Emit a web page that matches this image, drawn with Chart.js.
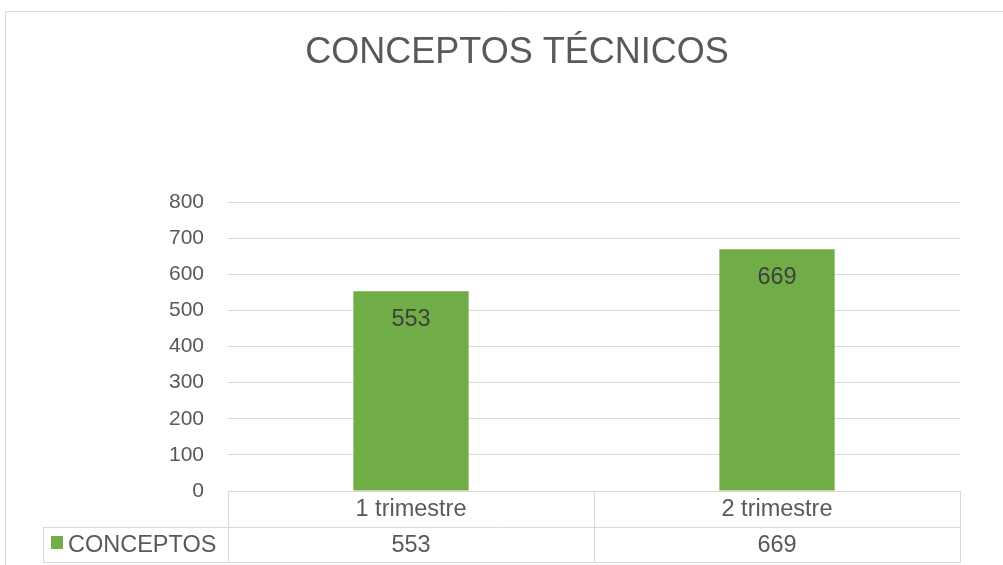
<!DOCTYPE html>
<html>
<head>
<meta charset="utf-8">
<script src="https://cdn.jsdelivr.net/npm/chart.js@4"></script>
<style>
  html, body { margin: 0; padding: 0; background: #fff; }
  #wrap { position: relative; width: 1003px; height: 565px; overflow: hidden; }
  canvas { display: block; }
</style>
</head>
<body>
<div id="wrap"><canvas id="c" width="1003" height="565"></canvas></div>
<script>
const title = "CONCEPTOS TÉCNICOS";
const categories = ["1 trimestre", "2 trimestre"];
const seriesName = "CONCEPTOS";
const seriesValues = [553, 669];
const yTicks = [0, 100, 200, 300, 400, 500, 600, 700, 800];

const FONT = "'Liberation Sans', Arial, sans-serif";
const TEXT = "#595959";
const LINE = "#d9d9d9";
const GREEN = "#70ad47";

const decor = {
  id: "decor",
  afterDatasetsDraw(chart) {
    const ctx = chart.ctx;
    const area = chart.chartArea;
    const xs = chart.scales.x;
    const ys = chart.scales.y;
    ctx.save();
    // outer border
    ctx.strokeStyle = LINE;
    ctx.lineWidth = 1;
    ctx.beginPath();
    ctx.moveTo(5.5, 565); ctx.lineTo(5.5, 11.5); ctx.lineTo(1003, 11.5);
    ctx.stroke();
    // title
    ctx.fillStyle = TEXT;
    ctx.font = "36px " + FONT;
    ctx.textAlign = "center";
    ctx.textBaseline = "middle";
    ctx.fillText(title, 517, 53);

    // data labels inside bars
    const meta = chart.getDatasetMeta(0);
    ctx.font = "23.5px " + FONT;
    ctx.fillStyle = "#404040";
    meta.data.forEach((bar, i) => {
      ctx.fillText(String(seriesValues[i]), bar.x, bar.y + 28);
    });

    // data table
    const n = categories.length;
    const colW = (area.right - area.left) / n;
    const top = Math.round(ys.getPixelForValue(0));
    const r1 = top + 36, r2 = top + 71;
    const legendLeft = 43;
    ctx.strokeStyle = LINE;
    ctx.beginPath();
    ctx.moveTo(area.left, top + 0.5); ctx.lineTo(area.right, top + 0.5);
    ctx.moveTo(legendLeft, r1 + 0.5); ctx.lineTo(area.right, r1 + 0.5);
    ctx.moveTo(legendLeft, r2 + 0.5); ctx.lineTo(area.right, r2 + 0.5);
    ctx.moveTo(legendLeft + 0.5, r1); ctx.lineTo(legendLeft + 0.5, r2 + 1);
    for (let i = 0; i <= n; i++) {
      const x = Math.round(area.left + i * colW) + 0.5;
      ctx.moveTo(x, top); ctx.lineTo(x, r2 + 1);
    }
    ctx.stroke();
    ctx.fillStyle = TEXT;
    ctx.font = "23.5px " + FONT;
    ctx.textAlign = "center";
    ctx.textBaseline = "middle";
    categories.forEach((c, i) => {
      const cx = xs.getPixelForValue(i);
      ctx.fillText(c, cx, (top + r1) / 2 + 1);
      ctx.fillText(String(seriesValues[i]), cx, (r1 + r2) / 2 + 1);
    });
    // legend key
    ctx.fillStyle = GREEN;
    ctx.fillRect(51, r1 + 9, 12, 13);
    ctx.fillStyle = TEXT;
    ctx.textAlign = "left";
    ctx.fillText(seriesName, 68, (r1 + r2) / 2 + 1);
    ctx.restore();
  }
};

new Chart(document.getElementById("c"), {
  type: "bar",
  data: {
    labels: categories,
    datasets: [{
      label: seriesName,
      data: seriesValues,
      backgroundColor: GREEN,
      borderWidth: 0,
      categoryPercentage: 1,
      barPercentage: 0.315
    }]
  },
  options: {
    responsive: false,
    animation: false,
    devicePixelRatio: 1,
    layout: { padding: { top: 202, right: 43, bottom: 74, left: 0 } },
    plugins: { legend: { display: false }, title: { display: false }, tooltip: { enabled: false } },
    scales: {
      x: { display: false },
      y: {
        min: 0, max: 800,
        afterBuildTicks(scale) { scale.ticks = yTicks.map(v => ({ value: v })); },
        afterFit(scale) { scale.width = 228; },
        border: { display: false },
        grid: { color: LINE, lineWidth: 1, drawTicks: false },
        ticks: { padding: 24, color: TEXT, font: { family: FONT, size: 21 } }
      }
    }
  },
  plugins: [decor]
});
</script>
</body>
</html>
